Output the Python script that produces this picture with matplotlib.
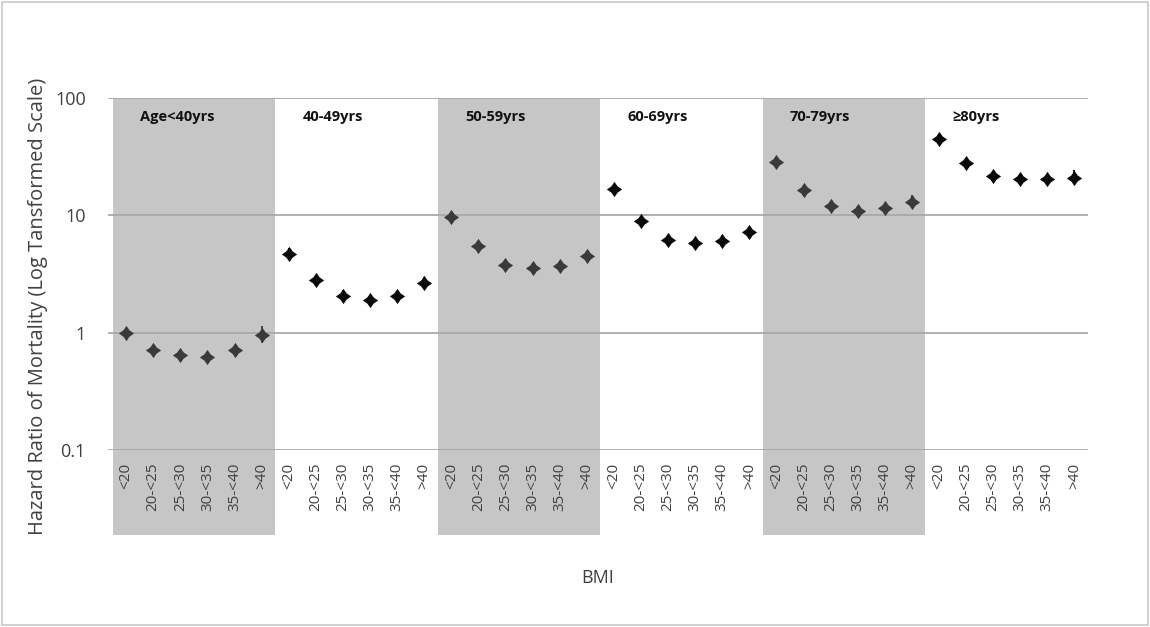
import matplotlib.pyplot as plt
import matplotlib.patches as mpatches
import numpy as np


AGE_GROUPS = ["Age<40yrs", "40-49yrs", "50-59yrs", "60-69yrs", "70-79yrs", "≥80yrs"]
BMI_LABELS = ["<20", "20-<25", "25-<30", "30-<35", "35-<40", ">40"]

# hazard ratio per age group (rows) and BMI class (cols)
HR = [
    [1.00, 0.71, 0.64, 0.62, 0.71, 0.96],
    [4.68, 2.79, 2.04, 1.91, 2.04, 2.66],
    [9.70, 5.50, 3.79, 3.57, 3.70, 4.52],
    [16.8, 8.98, 6.18, 5.83, 6.08, 7.24],
    [28.5, 16.5, 12.0, 10.9, 11.6, 13.0],
    [44.8, 27.8, 21.8, 20.3, 20.3, 21.0],
]
HR_LOW = [
    [1.00, 0.66, 0.60, 0.57, 0.64, 0.82],
    [4.30, 2.60, 1.85, 1.80, 1.85, 2.35],
    [9.20, 4.95, 3.55, 3.35, 3.45, 4.20],
    [15.6, 8.40, 5.60, 5.40, 5.50, 6.70],
    [26.5, 15.4, 11.2, 10.2, 10.8, 11.7],
    [42.0, 26.2, 20.5, 19.2, 19.2, 18.8],
]
HR_HIGH = [
    [1.00, 0.76, 0.69, 0.68, 0.79, 1.14],
    [5.30, 3.00, 2.30, 2.05, 2.25, 3.00],
    [10.3, 6.10, 4.05, 3.80, 3.95, 4.85],
    [18.2, 9.60, 6.80, 6.20, 6.80, 7.90],
    [30.5, 17.6, 12.8, 11.6, 12.4, 14.8],
    [48.0, 29.5, 23.2, 21.5, 21.5, 24.5],
]

BAND = "#c6c6c6"
GRID = "#a9a9a9"
TEXT = "#404040"


def star_marker(inner=0.58):
    # four pointed star with slightly concave sides
    verts = []
    for k in range(8):
        a = np.pi / 2 + k * np.pi / 4
        r = 1.0 if k % 2 == 0 else inner
        verts.append((r * np.cos(a), r * np.sin(a)))
    verts.append(verts[0])
    return verts


def main():
    fig = plt.figure(figsize=(11.5, 6.27), dpi=100)
    plt.rcParams["font.family"] = ["Open Sans", "DejaVu Sans"]
    ax = fig.add_axes([108 / 1150, 1 - 450 / 627, 980 / 1150, 352 / 627])

    n = len(BMI_LABELS)
    ax.set_yscale("log")
    ax.set_ylim(0.1, 100)
    ax.set_xlim(-0.17, n * len(AGE_GROUPS))

    for g in [0.1, 1, 10, 100]:
        ax.axhline(g, color=GRID, lw=1.3, zorder=1)

    marker = star_marker()
    trans = ax.get_xaxis_transform()
    for i, label in enumerate(AGE_GROUPS):
        x0 = i * n
        if i % 2 == 0:
            ax.add_patch(mpatches.Rectangle((x0, -0.242), n, 1.242, transform=trans,
                                            color=BAND, lw=0, zorder=0.5, clip_on=False))
        ax.text(x0 + 1.0, 0.946, label, transform=trans, fontsize=10.5,
                fontweight="bold", va="center", ha="left", color="#111111", zorder=3)

        xs = x0 + np.arange(n) + 0.5
        y = np.array(HR[i])
        err = [y - np.array(HR_LOW[i]), np.array(HR_HIGH[i]) - y]
        c = "#3a3a3a" if i % 2 == 0 else "#0a0a0a"
        ax.errorbar(xs, y, yerr=err, fmt="none", ecolor=c, elinewidth=1.3,
                    capsize=0, zorder=4)
        ax.plot(xs, y, ls="none", marker=marker, ms=11, color=c, mec=c, mew=0,
                zorder=5)

    ticks = np.arange(n * len(AGE_GROUPS)) + 0.5
    ax.set_xticks(ticks)
    ax.set_xticklabels(BMI_LABELS * len(AGE_GROUPS), rotation=90, fontsize=11,
                       color=TEXT)
    ax.set_yticks([0.1, 1, 10, 100])
    ax.set_yticklabels(["0.1", "1", "10", "100"], fontsize=13, color=TEXT)
    ax.yaxis.set_minor_locator(plt.NullLocator())
    ax.tick_params(axis="both", length=0)
    ax.tick_params(axis="x", pad=9)
    ax.tick_params(axis="y", pad=16)
    for s in ax.spines.values():
        s.set_visible(False)

    fig.text(38 / 1150, 1 - 306 / 627, "Hazard Ratio of Mortality (Log Tansformed Scale)",
             rotation=90, ha="center", va="center", fontsize=14.5, color=TEXT)
    fig.text(598 / 1150, 1 - 578 / 627, "BMI", ha="center", va="center",
             fontsize=13, color=TEXT)

    fig.patches.append(mpatches.Rectangle((2 / 1150, 2 / 627), 1146 / 1150, 623 / 627,
                                          transform=fig.transFigure, fill=False,
                                          ec="#c8c8c8", lw=1.2))

    fig.savefig("out.png", dpi=100)


if __name__ == "__main__":
    main()
